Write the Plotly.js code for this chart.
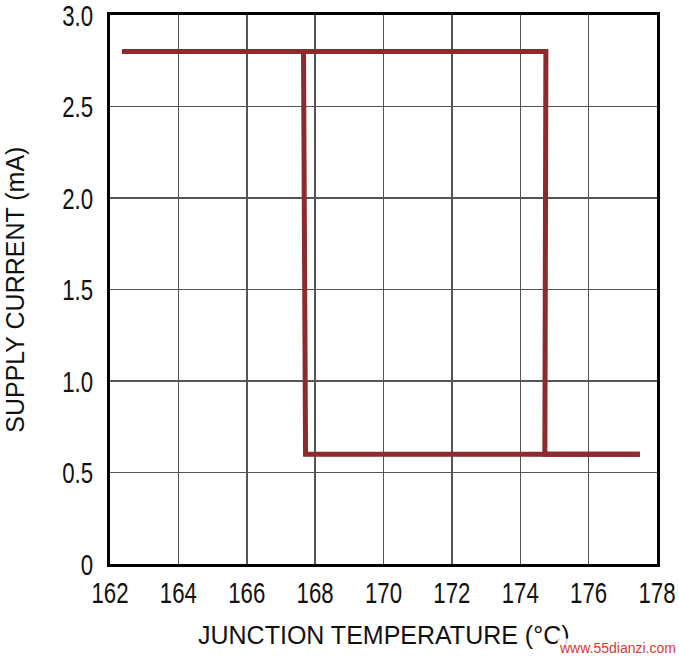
<!DOCTYPE html>
<html>
<head>
<meta charset="utf-8">
<script src="https://cdn.plot.ly/plotly-3.0.1.min.js"></script>
<style>
html,body{margin:0;padding:0;background:#fff;}
#chart{width:679px;height:656px;}
</style>
</head>
<body>
<div id="chart"></div>
<script>
// Rising temperature path (normal operation -> thermal shutdown)
const heatX = [162.35, 174.75, 174.72, 177.5];
const heatY = [2.8, 2.8, 0.6, 0.6];
// Falling temperature path (shutdown -> recovery)
const coolX = [177.5, 167.72, 167.66];
const coolY = [0.6, 0.6, 2.8];

const xTicks = [162, 164, 166, 168, 170, 172, 174, 176, 178];
const yTicks = [0, 0.5, 1.0, 1.5, 2.0, 2.5, 3.0];
const yTickText = ["0", "0.5", "1.0", "1.5", "2.0", "2.5", "3.0"];

const FONT = "'Liberation Sans Narrow', 'Liberation Sans', Arial, sans-serif";
const lineColor = "#8c2a2d";

const traces = [
  {x: heatX, y: heatY, mode: "lines", line: {color: lineColor, width: 5}, hoverinfo: "skip"},
  {x: coolX, y: coolY, mode: "lines", line: {color: lineColor, width: 5}, hoverinfo: "skip"}
];

const layout = {
  width: 679, height: 656,
  margin: {l: 110, r: 22, t: 15, b: 92},
  paper_bgcolor: "#fff", plot_bgcolor: "#fff",
  showlegend: false,
  font: {family: FONT, color: "#111", size: 30},
  xaxis: {
    range: [162, 178], tickvals: xTicks, ticks: "",
    showgrid: true, gridcolor: "#555", gridwidth: 1.5,
    showline: true, linecolor: "#000", linewidth: 3, mirror: true,
    zeroline: false, ticklabeloverflow: "allow",
    tickfont: {family: FONT, size: 30, color: "#111"}
  },
  yaxis: {
    range: [0, 3.0], tickvals: yTicks, ticktext: yTickText, ticks: "",
    showgrid: true, gridcolor: "#555", gridwidth: 1.5,
    showline: true, linecolor: "#000", linewidth: 3, mirror: true,
    zeroline: false, ticklabeloverflow: "allow", ticklabelstandoff: 8,
    tickfont: {family: FONT, size: 30, color: "#111"}
  },
  annotations: [
    {text: "JUNCTION TEMPERATURE (°C)", xref: "paper", yref: "paper", x: 0.5, y: -0.13,
     xanchor: "center", yanchor: "middle", showarrow: false,
     font: {family: FONT, size: 25, color: "#111"}},
    {text: "SUPPLY CURRENT (mA)", xref: "paper", yref: "paper", x: -0.175, y: 0.5,
     xanchor: "center", yanchor: "middle", showarrow: false, textangle: -90,
     font: {family: FONT, size: 25, color: "#111"}},
    {text: "www.55dianzi.com", xref: "paper", yref: "paper", x: 1.038, y: -0.153,
     xanchor: "right", yanchor: "middle", showarrow: false,
     bgcolor: "rgba(255,255,255,0.85)", borderpad: 1,
     font: {family: FONT, size: 14, color: "#d83a32"}}
  ]
};

function condense(selector, factor) {
  document.querySelectorAll(selector).forEach(function (t) {
    const w = t.getComputedTextLength();
    if (w > 0) {
      t.setAttribute("textLength", (w * factor).toFixed(2));
      t.setAttribute("lengthAdjust", "spacingAndGlyphs");
    }
  });
}

Plotly.newPlot("chart", traces, layout, {displayModeBar: false, staticPlot: true}).then(function () {
  // reference uses a condensed face for the tick numbers
  condense("#chart .xtick text", 0.74);
  condense("#chart .ytick text", 0.74);
});
</script>
</body>
</html>
